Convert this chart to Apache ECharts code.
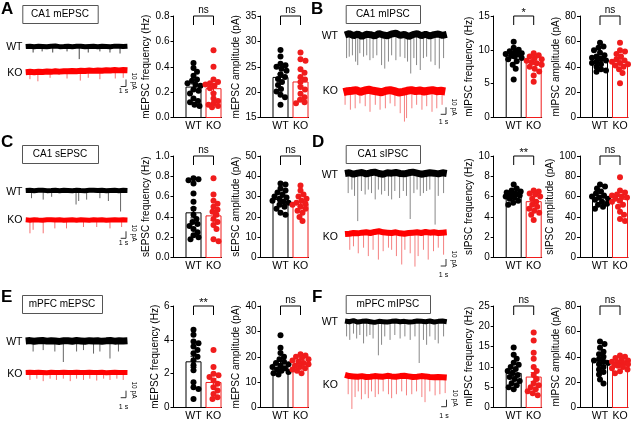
<!DOCTYPE html>
<html><head><meta charset="utf-8">
<script src="https://cdn.jsdelivr.net/npm/echarts@6/dist/echarts.min.js"></script>
<style>html,body{margin:0;padding:0;background:#fff}#c{width:640px;height:422px}</style>
</head><body><div id="c"></div>
<script>
const FONT = '"Liberation Sans", Arial, Helvetica, sans-serif';
const groups = ['WT', 'KO'];
const panelLetters = ['A', 'B', 'C', 'D', 'E', 'F'];
const panelTitles = ['CA1 mEPSC', 'CA1 mIPSC', 'CA1 sEPSC', 'CA1 sIPSC', 'mPFC mEPSC', 'mPFC mIPSC'];

// ---- bar + dot data ----
const aFreqWT = [0.43,0.39,0.36,0.33,0.30,0.29,0.27,0.26,0.25,0.22,0.21,0.19,0.15,0.13,0.12,0.10,0.09];
const aFreqKO = [0.53,0.40,0.30,0.28,0.27,0.26,0.25,0.23,0.19,0.15,0.13,0.11,0.10,0.09,0.08];
const aFreqMean = [0.24, 0.227], aFreqSem = [0.025, 0.032];
const aAmpWT = [28.3,27.0,25.6,25.3,25.0,24.6,24.2,23.5,23.0,22.6,22.0,21.4,20.6,20.1,19.5,19.0,17.5];
const aAmpKO = [27.8,26.5,26.2,24.5,23.8,23.0,22.5,22.0,21.0,20.5,19.7,19.0,18.5,18.0,17.8];
const aAmpMean = [22.9, 22.0], aAmpSem = [0.7, 0.8];
const bFreqWT = [11.2,10.3,10.0,9.8,9.6,9.5,9.4,9.3,9.2,9.0,8.8,8.6,8.3,7.8,7.2,5.6];
const bFreqKO = [9.5,9.2,9.0,8.8,8.6,8.4,8.2,8.0,7.8,7.5,7.2,6.8,6.2,5.3];
const bFreqMean = [9.1, 8.1], bFreqSem = [0.35, 0.3];
const bAmpWT = [59,56,55,53,51,49,48,47,46,45,44,43,42,40,38,37,36];
const bAmpKO = [59,53,52,50,48,46,45,44,43,42,41,40,38,35,27];
const bAmpMean = [46.5, 44.0], bAmpSem = [1.6, 2.0];
const cFreqWT = [0.78,0.77,0.76,0.73,0.63,0.55,0.48,0.42,0.38,0.35,0.33,0.31,0.28,0.25,0.22,0.20,0.18];
const cFreqKO = [0.78,0.62,0.56,0.53,0.50,0.47,0.45,0.42,0.38,0.35,0.32,0.28,0.18,0.16];
const cFreqMean = [0.44, 0.41], cFreqSem = [0.05, 0.045];
const cAmpWT = [36.5,36,34,33,32,31,30,29.5,29,28,27.5,27,26,25,24,22,21];
const cAmpKO = [35.5,33,31,30,29,28,27,26.5,26,25,24,23,22,20,18];
const cAmpMean = [28.6, 26.3], cAmpSem = [1.0, 1.1];
const dFreqWT = [7.2,6.8,6.6,6.5,6.4,6.3,6.2,6.1,6.0,5.9,5.8,5.6,5.4,5.2];
const dFreqKO = [6.6,6.5,6.3,6.2,6.0,5.8,5.5,5.2,5.0,4.8,4.6,4.4,4.2,3.7];
const dFreqMean = [6.15, 5.5], dFreqSem = [0.13, 0.22];
const dAmpWT = [72,70,68,65,63,61,60,59,58,57,55,53,52,50,48];
const dAmpKO = [79,66,64,62,61,60,59,58,56,55,52,50,45,42,38,36];
const dAmpMean = [58.5, 57.3], dAmpSem = [1.6, 2.8];
const eFreqWT = [4.6,4.3,3.9,3.8,3.6,3.4,3.2,3.0,2.8,2.5,2.2,1.5,1.2,1.1,0.5];
const eFreqKO = [3.4,2.4,2.0,1.9,1.8,1.6,1.4,1.2,1.0,0.8,0.6,0.5];
const eFreqMean = [2.7, 1.48], eFreqSem = [0.33, 0.22];
const eAmpWT = [28.5,23.5,21.5,20,19,18,17.5,17,16.5,16,15.5,15,14.5,14,13.5,13];
const eAmpKO = [21,20.5,20,19.5,19,18.5,18,17.5,17,16.5,16,15.5,15,14.5,13.5];
const eAmpMean = [17.3, 17.0], eAmpSem = [0.9, 0.5];
const fFreqWT = [14.8,13.0,12.0,11.0,10.5,10,9.5,9,8.5,8,7.5,7,6.5,6,5.5,5,4.5];
const fFreqKO = [18.5,16.5,13.5,12.0,10.0,9.0,8.0,7.0,6.0,5.5,5.0,4.5,4.0,3.5,3.0];
const fFreqMean = [8.4, 7.5], fFreqSem = [0.7, 1.1];
const fAmpWT = [52,50,47,44,42,40,38,37,36,35,34,32,30,28,26,22,19];
const fAmpKO = [41,40,39,38,37,36,35.5,35,34.5,34,33.5,33,32,31,30,28.5,27];
const fAmpMean = [37.2, 34.3], fAmpSem = [2.2, 1.0];

// ---- trace data: baseline (pA, every 0.8 s) and events [time s, depth pA] ----
const aWtBase = [0,0.5,-0.3,0.4,0,-0.5,0.3,0.6,-0.2,0,0.4,-0.4,0.2,0.5,-0.3,0.1,0.4,-0.2,0.3,0,-0.4,0.5,0.2,-0.1,0.3];
const aWtEvents = [[1.4,8.6],[3.1,7],[5.1,8.6],[7.8,7],[10.1,18],[11.8,8.6],[14.0,7],[15.9,8.6],[17.8,10]];
const aKoBase = [-1,-0.5,-1.2,-0.3,-0.8,0,-0.5,0.3,-0.2,0.5,0.2,0.8,0.4,1.0,0.6,1.3,0.9,1.5,1.1,1.8,1.4,2.0,1.6,2.1,1.8];
const aKoEvents = [[0.8,11],[2.3,14],[4.6,9],[7.8,10],[10.3,13],[11.8,9],[14.0,11],[16.9,10],[18.4,9]];
const bWtBase = [0,2,-1,1.5,-2,1,0.5,-1.5,2,0,-1,1.5,2.5,-0.5,1,-2,0.5,2,-1,1,-1.5,0.5,1.5,-0.5,1];
const bWtEvents = [[0.3,33],[0.8,31],[1.4,29],[2.0,38],[2.4,43],[2.8,26],[3.5,31],[4.1,29],[4.7,36],[5.3,33],[6.0,29],[6.9,43],[7.5,48],[8.2,38],[8.8,29],[9.6,36],[10.4,31],[11.3,33],[11.8,38],[12.4,55],[13.0,33],[13.5,43],[14.2,50],[14.8,33],[15.4,31],[16.2,38],[17.0,43],[17.8,48],[18.6,33]];
const bKoBase = [-1,0.5,1,2,-0.5,1.5,2.5,1,0,-1,1,2,0.5,-1.5,-0.5,1,2,0.5,1.5,0,1,2,0.5,1,0];
const bKoEvents = [[0.3,19],[1.3,26],[2.2,24],[3.1,17],[4.1,21],[5.0,29],[6.0,19],[6.9,26],[7.9,24],[8.8,17],[9.7,21],[10.7,31],[11.5,43],[11.9,38],[12.9,24],[13.8,19],[14.8,26],[15.7,21],[16.7,29],[17.6,24],[18.6,19]];
const cWtBase = [0,0.4,-0.3,0.2,0.5,-0.2,0,0.3,-0.4,0.2,0.1,-0.3,0.4,0,-0.2,0.3,0.5,-0.1,0.2,-0.3,0.1,0.4,-0.2,0.2,0];
const cWtEvents = [[1.1,11],[3.3,13],[4.9,9],[9.5,20],[10.0,15],[11.5,13],[14.0,11],[15.6,15],[17.9,30]];
const cKoBase = [0.3,-0.2,0.4,0,-0.3,0.2,0.5,-0.1,0.2,-0.4,0,0.3,-0.2,0.4,0.1,-0.3,0.2,0,0.4,-0.2,0.1,0.3,-0.1,0.2,0];
const cKoEvents = [[0.8,19],[1.4,14],[3.3,19],[5.5,12],[7.7,12],[10.9,10],[13.4,10],[15.9,12],[18.1,10]];
const dWtBase = [0,1,-1,0.5,1.5,-0.5,1,2,0,-1,1,0.5,1.5,0,-0.5,1,2,0.5,-1,0,1,0.5,-0.5,1,0];
const dWtEvents = [[0.6,28],[1.3,23],[1.8,32],[2.4,68],[3.1,25],[3.8,30],[4.4,23],[5.0,28],[5.7,37],[6.3,23],[6.9,30],[7.5,25],[8.2,32],[8.8,37],[9.4,25],[10.3,35],[11.0,25],[11.6,32],[12.3,65],[13.0,28],[13.6,23],[14.2,32],[14.8,28],[15.4,25],[16.0,23],[17.0,73],[17.6,32],[18.6,28]];
const dKoBase = [-1.5,-1,0,-0.5,0.5,1,0,1.5,2.5,1,0.5,0,1,-0.5,-1,0,0.5,1,0,1.5,0.5,1,0,0.5,1];
const dKoEvents = [[0.9,24],[1.6,19],[2.5,29],[3.5,21],[4.4,33],[5.3,24],[6.3,38],[7.2,26],[8.2,21],[8.8,24],[9.7,33],[10.7,45],[11.3,24],[12.3,29],[13.2,48],[13.8,33],[14.8,24],[15.7,38],[16.7,26],[17.6,21],[18.6,31]];
const eWtBase = [0,0.6,-0.4,0.3,0.8,-0.2,0.5,0,-0.6,0.4,0.2,-0.3,0.6,0.1,-0.4,0.5,0,0.3,-0.5,0.2,0.6,-0.2,0.3,0,0.4];
const eWtEvents = [[1.4,15],[3.3,13],[5.5,15],[7.1,30],[9.6,15],[10.9,13],[12.8,18],[14.0,15],[15.9,25],[17.5,15]];
const eKoBase = [0,0.3,-0.2,0.2,0,-0.3,0.2,0.1,-0.2,0.3,0,-0.1,0.2,-0.2,0.1,0.3,-0.1,0,0.2,-0.3,0.1,0.2,-0.1,0.1,0];
const eKoEvents = [[0.8,12],[2.1,10],[3.3,14],[4.6,10],[5.8,12],[7.1,10],[8.4,14],[9.6,10],[10.9,12],[12.1,10],[13.4,13],[14.7,10],[15.9,12],[17.2,10],[18.4,12]];
const fWtBase = [1,0,1.5,-0.5,0.5,1,0,-1,0.5,0,-0.5,0.5,1,0,0.5,-0.5,0,1,0.5,0,1,-0.5,0.5,1,0];
const fWtEvents = [[0.3,21],[0.9,26],[1.6,17],[2.2,24],[2.8,19],[3.5,31],[4.1,21],[4.7,19],[5.3,24],[6.3,48],[6.9,33],[7.5,21],[8.5,26],[9.4,19],[10.4,24],[11.3,21],[12.3,26],[13.2,21],[14.0,59],[14.8,26],[15.4,33],[16.0,21],[17.0,26],[17.6,31],[18.6,21]];
const fKoBase = [3,1,0.5,0,1,-0.5,0,1,0.5,0,1.5,0.5,0,1,1.5,0.5,-0.5,0,1,0.5,-0.5,-1,-0.5,-1,-1.5];
const fKoEvents = [[0.6,31],[1.3,57],[1.9,36],[2.5,26],[3.1,40],[3.8,31],[4.4,38],[5.0,26],[5.7,36],[6.3,31],[7.2,26],[8.2,31],[8.8,38],[9.7,31],[10.7,26],[11.6,33],[12.6,31],[13.5,26],[14.5,36],[15.1,45],[16.0,26],[17.0,33],[17.9,31],[18.9,29]];

// ---- layout ----
const colLeft = [173.5, 260.5, 493.7, 580];
const rowTop = [16, 156, 306];
const GW = 48, GH = 101.5;
const RED = '#f01c1c';

const barCharts = [
  {wt:aFreqWT, ko:aFreqKO, mean:aFreqMean, sem:aFreqSem, name:'mEPSC frequency (Hz)', min:0, max:0.8, step:0.2, dec:1, sig:'ns', col:0, row:0, dist:19.5},
  {wt:aAmpWT, ko:aAmpKO, mean:aAmpMean, sem:aAmpSem, name:'mEPSC amplitude (pA)', min:15, max:35, step:5, dec:0, sig:'ns', col:1, row:0, dist:18.8},
  {wt:bFreqWT, ko:bFreqKO, mean:bFreqMean, sem:bFreqSem, name:'mIPSC frequency (Hz)', min:0, max:15, step:5, dec:0, sig:'*', col:2, row:0, dist:17.7},
  {wt:bAmpWT, ko:bAmpKO, mean:bAmpMean, sem:bAmpSem, name:'mIPSC amplitude (pA)', min:0, max:80, step:20, dec:0, sig:'ns', col:3, row:0, dist:16.5},
  {wt:cFreqWT, ko:cFreqKO, mean:cFreqMean, sem:cFreqSem, name:'sEPSC frequency (Hz)', min:0, max:1.0, step:0.2, dec:1, sig:'ns', col:0, row:1, dist:19.5},
  {wt:cAmpWT, ko:cAmpKO, mean:cAmpMean, sem:cAmpSem, name:'sEPSC amplitude (pA)', min:0, max:50, step:10, dec:0, sig:'ns', col:1, row:1, dist:18.5},
  {wt:dFreqWT, ko:dFreqKO, mean:dFreqMean, sem:dFreqSem, name:'sIPSC frequency (Hz)', min:0, max:10, step:2, dec:0, sig:'**', col:2, row:1, dist:17.5},
  {wt:dAmpWT, ko:dAmpKO, mean:dAmpMean, sem:dAmpSem, name:'sIPSC amplitude (pA)', min:0, max:100, step:20, dec:0, sig:'ns', col:3, row:1, dist:17.5},
  {wt:eFreqWT, ko:eFreqKO, mean:eFreqMean, sem:eFreqSem, name:'mEPSC frequency (Hz)', min:0, max:6, step:2, dec:0, sig:'**', col:0, row:2, dist:16.5},
  {wt:eAmpWT, ko:eAmpKO, mean:eAmpMean, sem:eAmpSem, name:'mEPSC amplitude (pA)', min:0, max:40, step:10, dec:0, sig:'ns', col:1, row:2, dist:17.5},
  {wt:fFreqWT, ko:fFreqKO, mean:fFreqMean, sem:fFreqSem, name:'mIPSC frequency (Hz)', min:0, max:25, step:5, dec:0, sig:'ns', col:2, row:2, dist:17},
  {wt:fAmpWT, ko:fAmpKO, mean:fAmpMean, sem:fAmpSem, name:'mIPSC amplitude (pA)', min:0, max:80, step:20, dec:0, sig:'ns', col:3, row:2, dist:16.5}
];

const traces = [
  {base:aWtBase, ev:aWtEvents, left:25.7, mid:46.5, color:'#000', evColor:'#444', w:5},
  {base:aKoBase, ev:aKoEvents, left:25.7, mid:71.5, color:'#ff0000', evColor:'#f57070', w:6},
  {base:bWtBase, ev:bWtEvents, left:345, mid:35, color:'#000', evColor:'#888', w:7},
  {base:bKoBase, ev:bKoEvents, left:343.5, mid:91.5, color:'#ff0000', evColor:'#f58080', w:8},
  {base:cWtBase, ev:cWtEvents, left:25.7, mid:190.5, color:'#000', evColor:'#666', w:5},
  {base:cKoBase, ev:cKoEvents, left:25.7, mid:220, color:'#ff0000', evColor:'#f57070', w:5},
  {base:dWtBase, ev:dWtEvents, left:345, mid:173.5, color:'#000', evColor:'#888', w:7},
  {base:dKoBase, ev:dKoEvents, left:345, mid:233, color:'#ff0000', evColor:'#f58080', w:6},
  {base:eWtBase, ev:eWtEvents, left:25.7, mid:341, color:'#000', evColor:'#666', w:7},
  {base:eKoBase, ev:eKoEvents, left:25.7, mid:373.3, color:'#ff0000', evColor:'#f57070', w:5},
  {base:fWtBase, ev:fWtEvents, left:345, mid:321.7, color:'#000', evColor:'#888', w:5},
  {base:fKoBase, ev:fKoEvents, left:345, mid:378, color:'#ff0000', evColor:'#f58080', w:6}
];
const TRACE_SEC = 19.2, PX_PER_PA = 0.7, BASE_STEP = 0.8;

function swarm(vals, cx, c) {
  const py = GH / (c.max - c.min), pxu = 20, D = 5.0;
  const order = vals.map((v, i) => i).sort((a, b) => vals[b] - vals[a]);
  const placed = [], out = [];
  const cands = [0];
  for (let k = 0.5; k <= 8; k += 0.5) cands.push(k, -k);
  order.forEach(i => {
    const y = (vals[i] - c.min) * py;
    let best = null;
    for (const dx of cands) {
      if (placed.every(p => (p.x - dx) ** 2 + (p.y - y) ** 2 >= D * D)) { best = dx; break; }
    }
    if (best === null) {
      let score = -1;
      for (const dx of cands) {
        const m = Math.min(...placed.map(p => Math.hypot(p.x - dx, p.y - y)));
        if (m > score) { score = m; best = dx; }
      }
    }
    placed.push({x: best, y});
    out.push([cx + best / pxu, vals[i]]);
  });
  return out;
}

const grid = [], xAxis = [], yAxis = [], series = [];
const txt = {fontFamily: FONT, color: '#000'};

barCharts.forEach((c, i) => {
  grid.push({left: colLeft[c.col], top: rowTop[c.row], width: GW, height: GH});
  xAxis.push({type: 'value', gridIndex: i, min: 0, max: 2.4, interval: 1,
    splitLine: {show: false}, axisTick: {show: false},
    axisLine: {show: true, onZero: false, lineStyle: {color: '#000', width: 1}},
    axisLabel: {formatter: v => (v === 1 ? groups[0] : v === 2 ? groups[1] : ''), fontSize: 10.5, margin: 3, showMaxLabel: false, ...txt}});
  yAxis.push({type: 'value', gridIndex: i, min: c.min, max: c.max, interval: c.step,
    name: c.name, nameLocation: 'middle', nameRotate: 90, nameGap: c.dist - 6,
    nameTextStyle: {fontSize: 10, ...txt},
    splitLine: {show: false},
    axisLine: {show: true, onZero: false, lineStyle: {color: '#000', width: 1}},
    axisTick: {show: true, length: 3, lineStyle: {color: '#000'}},
    axisLabel: {formatter: v => v.toFixed(c.dec), fontSize: 10, margin: 4, ...txt}});
  const colors = ['#000', RED];
  series.push({type: 'custom', xAxisIndex: i, yAxisIndex: i, z: 1, silent: true,
    data: [[1, c.mean[0], 0], [2, c.mean[1], 1]],
    renderItem: (p, api) => {
      const top = api.coord([api.value(0), api.value(1)]);
      const bot = api.coord([api.value(0), c.min]);
      return {type: 'rect', shape: {x: top[0] - 7.5, y: top[1], width: 15, height: bot[1] - top[1]},
        style: {fill: '#fff', stroke: colors[api.value(2)], lineWidth: 1}};
    }});
  series.push({type: 'scatter', xAxisIndex: i, yAxisIndex: i, z: 3, symbolSize: 6, silent: true,
    itemStyle: {color: '#000', opacity: 1}, data: swarm(c.wt, 1, c)});
  series.push({type: 'scatter', xAxisIndex: i, yAxisIndex: i, z: 3, symbolSize: 6, silent: true,
    itemStyle: {color: RED, opacity: 1}, data: swarm(c.ko, 2, c)});
  series.push({type: 'custom', xAxisIndex: i, yAxisIndex: i, z: 4, silent: true,
    data: [[1, c.mean[0] - c.sem[0], c.mean[0] + c.sem[0], 0], [2, c.mean[1] - c.sem[1], c.mean[1] + c.sem[1], 1]],
    renderItem: (p, api) => {
      const lo = api.coord([api.value(0), api.value(1)]);
      const hi = api.coord([api.value(0), api.value(2)]);
      const col = colors[api.value(3)];
      return {type: 'group', children: [
        {type: 'line', shape: {x1: lo[0], y1: lo[1], x2: hi[0], y2: hi[1]}, style: {stroke: col, lineWidth: 1}},
        {type: 'line', shape: {x1: hi[0] - 3, y1: hi[1], x2: hi[0] + 3, y2: hi[1]}, style: {stroke: col, lineWidth: 1}},
        {type: 'line', shape: {x1: lo[0] - 3, y1: lo[1], x2: lo[0] + 3, y2: lo[1]}, style: {stroke: col, lineWidth: 1}}
      ]};
    }});
  series.push({type: 'custom', xAxisIndex: i, yAxisIndex: i, z: 4, silent: true,
    data: [[1, c.max, 2]],
    renderItem: (p, api) => {
      const a = api.coord([api.value(0), api.value(1)]);
      const b = api.coord([api.value(2), api.value(1)]);
      return {type: 'group', children: [
        {type: 'polyline', shape: {points: [[a[0], a[1] + 9], [a[0], a[1]], [b[0], b[1]], [b[0], b[1] + 9]]}, style: {stroke: '#000', fill: null, lineWidth: 1}},
        {type: 'text', style: {text: c.sig, x: (a[0] + b[0]) / 2, y: a[1] - (c.sig === 'ns' ? 1 : -2), align: 'center', verticalAlign: 'bottom',
          fontSize: c.sig === 'ns' ? 10 : 11, fontFamily: FONT, fill: '#000'}}
      ]};
    }});
});

traces.forEach((t, k) => {
  const gi = barCharts.length + k;
  grid.push({left: t.left, top: t.mid - 10 * PX_PER_PA, width: TRACE_SEC * 5.3, height: 90 * PX_PER_PA});
  xAxis.push({type: 'value', gridIndex: gi, min: 0, max: TRACE_SEC, show: false});
  yAxis.push({type: 'value', gridIndex: gi, min: -80, max: 10, show: false});
  series.push({type: 'custom', xAxisIndex: gi, yAxisIndex: gi, z: 1, silent: true, data: t.ev,
    renderItem: (p, api) => {
      const a = api.coord([api.value(0), 0]);
      const b = api.coord([api.value(0), -api.value(1)]);
      return {type: 'line', shape: {x1: a[0], y1: a[1], x2: b[0], y2: b[1]}, style: {stroke: t.evColor, lineWidth: 1}};
    }});
  series.push({type: 'line', xAxisIndex: gi, yAxisIndex: gi, z: 2, silent: true, symbol: 'none',
    data: t.base.map((v, j) => [j * BASE_STEP, v]),
    lineStyle: {color: t.color, width: t.w}});
});

// ---- annotations ----
const letterPos = [[1, 1], [311, 1], [1, 134], [312, 134], [1, 289], [312, 289]];
const boxPos = [[22.3, 5, 75.4], [345.7, 5, 74.3], [22, 145, 76], [345.7, 145, 74.3], [22, 295, 80], [345.7, 295, 84.3]];
const labelPos = [[22.5, 46.7, 73], [338, 36, 91.5], [22.5, 191.7, 220], [338, 175, 237], [22.5, 341.7, 374.3], [338, 321.7, 385]];
const scaleBars = [[126, 86.5, 91.5, 81], [446, 114.3, 121.7, 107], [126, 238.3, 243.5, 233], [446, 266, 275.5, 259], [126, 397.7, 406.7, 390], [446.5, 406.7, 416, 398]];
const graphic = [];
panelLetters.forEach((L, i) => {
  graphic.push({type: 'text', x: letterPos[i][0], y: letterPos[i][1], style: {text: L, font: 'bold 17px ' + FONT, fill: '#000', verticalAlign: 'top'}});
  const b = boxPos[i];
  graphic.push({type: 'rect', shape: {x: b[0] + 0.5, y: b[1] + 0.5, width: b[2], height: 18}, style: {fill: '#fff', stroke: '#555', lineWidth: 1}});
  graphic.push({type: 'text', x: b[0] + b[2] / 2, y: b[1] + 9.5, style: {text: panelTitles[i], font: '10px ' + FONT, fill: '#000', align: 'center', verticalAlign: 'middle'}});
  const lp = labelPos[i];
  graphic.push({type: 'text', x: lp[0], y: lp[1], style: {text: groups[0], font: '10.5px ' + FONT, fill: '#000', align: 'right', verticalAlign: 'middle'}});
  graphic.push({type: 'text', x: lp[0], y: lp[2], style: {text: groups[1], font: '10.5px ' + FONT, fill: '#000', align: 'right', verticalAlign: 'middle'}});
  const s = scaleBars[i];
  graphic.push({type: 'polyline', shape: {points: [[s[0] - 5.3, s[1]], [s[0], s[1]], [s[0], s[1] - 7]]}, style: {stroke: '#333', fill: null, lineWidth: 1}});
  graphic.push({type: 'text', x: s[0] - 2.5, y: s[2], style: {text: '1 s', font: '7px ' + FONT, fill: '#000', align: 'center', verticalAlign: 'middle'}});
  graphic.push({type: 'text', x: s[0] + 8, y: s[3], rotation: -Math.PI / 2, style: {text: '10 pA', font: '6.5px ' + FONT, fill: '#000', align: 'center', verticalAlign: 'middle'}});
});

const chart = echarts.init(document.getElementById('c'), null, {renderer: 'canvas'});
chart.setOption({animation: false, backgroundColor: '#fff', grid, xAxis, yAxis, series, graphic});
</script></body></html>
